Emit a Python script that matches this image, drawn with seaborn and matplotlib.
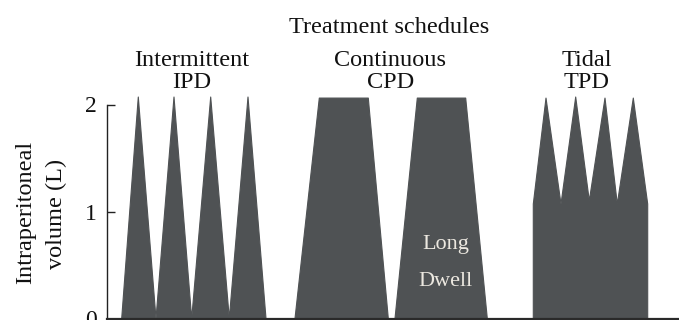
import numpy as np
import pandas as pd
import matplotlib
matplotlib.use("Agg")
import matplotlib.pyplot as plt
import seaborn as sns

# Schematic volume curves (time in arbitrary units, volume in L)
ipd_t = [1.52, 3.18, 4.95, 6.75, 8.52, 10.42, 12.28, 14.15, 15.95]
ipd_v = [0, 2.07, 0, 2.07, 0, 2.07, 0, 2.07, 0]

cpd1_t = [18.85, 21.28, 26.18, 28.18]
cpd2_t = [28.85, 31.08, 35.92, 38.08]
cpd_v = [0, 2.06, 2.06, 0]

tpd_t = [42.68, 42.68, 43.95, 45.45, 46.92, 48.28, 49.85, 51.08, 52.68, 54.12, 54.12]
tpd_v = [0, 1.07, 2.06, 1.07, 2.07, 1.10, 2.06, 1.07, 2.06, 1.07, 0]

schedule_names = ["Intermittent", "Continuous", "Tidal"]
schedule_codes = ["IPD", "CPD", "TPD"]
y_ticks = [0, 1, 2]

FILL = "#4f5254"
W, H = 679, 320

sns.set_theme(style="ticks")
plt.rcParams['font.family'] = ['Liberation Serif', 'DejaVu Serif']

fig = plt.figure(figsize=(W / 100, H / 100), dpi=100)
ax = fig.add_axes([106.5 / W, 1.5 / H, 1 - 106.5 / W, 228.5 / H])

shapes = [("IPD", ipd_t, ipd_v), ("CPD1", cpd1_t, cpd_v),
          ("CPD2", cpd2_t, cpd_v), ("TPD", tpd_t, tpd_v)]
for name, t, v in shapes:
    d = pd.DataFrame({"t": t, "v": v})
    ax.fill(d["t"], d["v"], color=FILL, lw=0)
    sns.lineplot(data=d, x="t", y="v", sort=False, estimator=None,
                 color=FILL, lw=0.8, ax=ax)

ax.set_xlim(0, (W - 106.5) / 10)
ax.set_ylim(0, 228.5 / 107)
ax.set_xticks([])
ax.set_yticks(y_ticks)
ax.set_yticklabels([str(v) for v in y_ticks], fontsize=17)
ax.tick_params(axis="y", direction="in", length=6, width=1.0, pad=7, colors="#222222")
for lab in ax.get_yticklabels():
    lab.set_color("#111111")
ax.set_xlabel("")
ax.set_ylabel("")
sns.despine(ax=ax)
ax.spines["left"].set_bounds(0, 2)
ax.spines["left"].set_linewidth(1.0)
ax.spines["left"].set_color("#222222")
ax.spines["bottom"].set_linewidth(1.6)
ax.spines["bottom"].set_color("#2a2a2a")


def fpos(x, y):
    return x / W, 1 - y / H


txt = dict(color="#111111", fontsize=17.5, ha="center", va="baseline")
fig.text(*fpos(389.5, 33), "Treatment schedules", **txt)
for cx, name, code in zip([191.5, 390.5, 587], schedule_names, schedule_codes):
    fig.text(*fpos(cx, 66), name, **txt)
    fig.text(*fpos(cx, 87.5), code, **txt)

fig.text(*fpos(25.5, 212), "Intraperitoneal", rotation=90, ha="center", va="center",
         fontsize=17.5, color="#111111")
fig.text(*fpos(56, 214), "volume (L)", rotation=90, ha="center", va="center",
         fontsize=17.5, color="#111111")

ax.text(*fpos(445.5, 249.3), "Long", transform=fig.transFigure, ha="center",
        va="baseline", fontsize=16, color="#ece8e0")
ax.text(*fpos(445.5, 285.7), "Dwell", transform=fig.transFigure, ha="center",
        va="baseline", fontsize=16, color="#ece8e0")

fig.savefig("out.png", dpi=100)
